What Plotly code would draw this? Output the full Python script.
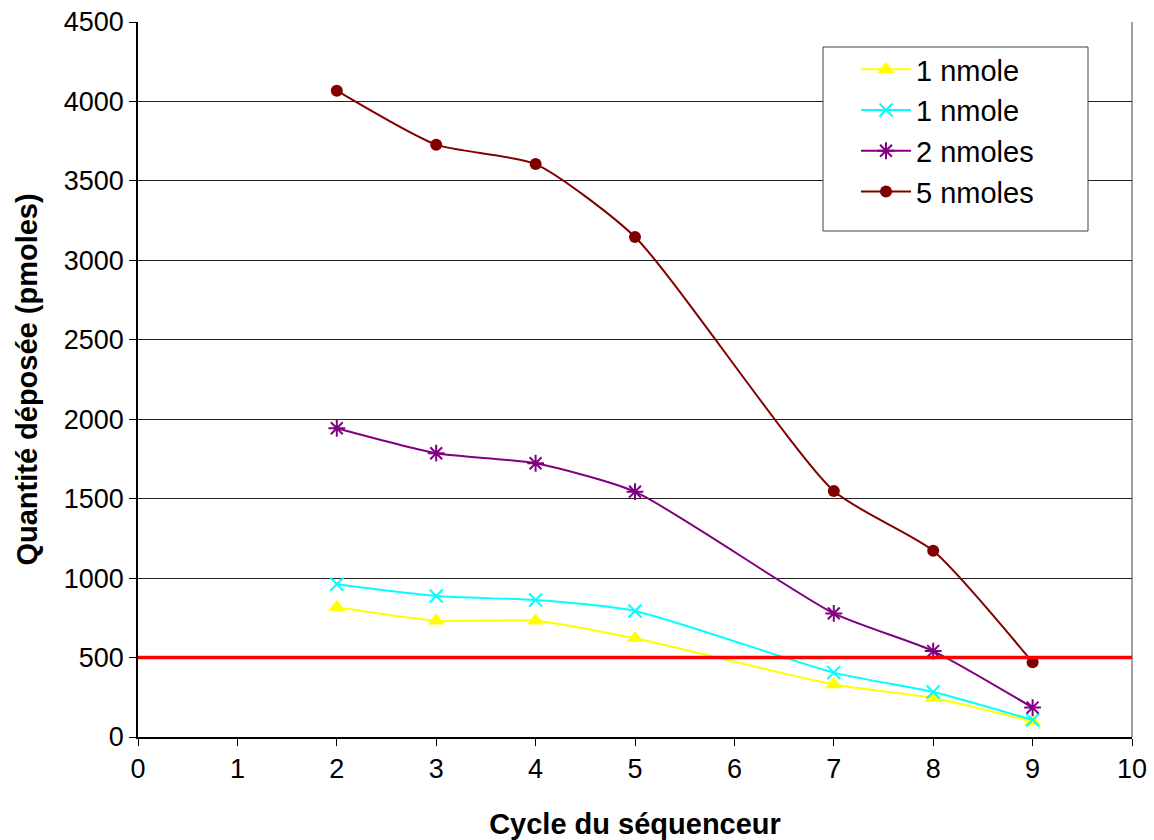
import plotly.graph_objects as go

# ---- data ----
cycles = [2, 3, 4, 5, 7, 8, 9]
series_names = ["1 nmole", "1 nmole", "2 nmoles", "5 nmoles"]
s_1nmole_a = [816, 732, 732, 621, 330, 245, 97]
s_1nmole_b = [961, 887, 862, 793, 405, 283, 107]
s_2nmoles = [1943, 1786, 1723, 1544, 778, 541, 185]
s_5nmoles = [4068, 3728, 3606, 3147, 1548, 1172, 470]
threshold = 500
x_ticks = list(range(0, 11))
y_ticks = list(range(0, 4501, 500))

FONT = "Liberation Sans, Arial, sans-serif"

styles = [
    dict(color="#FFFF00", symbol="triangle-up", size=15, mline=0),
    dict(color="#00FFFF", symbol="x-thin-open", size=13, mline=2),
    dict(color="#800080", symbol="asterisk-open", size=14, mline=2),
    dict(color="#800000", symbol="circle", size=12, mline=0),
]
values = [s_1nmole_a, s_1nmole_b, s_2nmoles, s_5nmoles]

fig = go.Figure()
for i, (name, vals, st) in enumerate(zip(series_names, values, styles)):
    fig.add_trace(go.Scatter(
        x=cycles, y=vals, name=name, mode="lines+markers",
        line=dict(color=st["color"], width=2, shape="spline", smoothing=0.6),
        marker=dict(color=st["color"], symbol=st["symbol"], size=st["size"],
                    line=dict(color=st["color"], width=st["mline"])),
        legendgroup=f"g{i}",
    ))

# threshold line
fig.add_shape(type="line", xref="paper", x0=0, x1=1, yref="y", y0=threshold, y1=threshold,
              line=dict(color="#FF0000", width=3.5), layer="above")
# right border of plot area
fig.add_shape(type="line", xref="paper", x0=1, x1=1, yref="paper", y0=0, y1=1,
              line=dict(color="#808080", width=1.5), layer="below")
# legend box
fig.add_shape(type="rect", xref="paper", yref="paper",
              x0=(823 - 138) / 994, x1=(1088 - 138) / 994,
              y0=(737 - 231) / 715, y1=(737 - 47) / 715,
              line=dict(color="#404040", width=1), fillcolor="white", layer="above")

fig.update_layout(
    width=1154, height=840,
    margin=dict(l=138, r=22, t=22, b=103, autoexpand=False),
    paper_bgcolor="white", plot_bgcolor="white",
    font=dict(family=FONT, color="black", size=27),
    showlegend=True,
    legend=dict(x=(856 - 138) / 994, y=(737 - 44) / 715, xanchor="left", yanchor="top",
                bgcolor="rgba(0,0,0,0)", borderwidth=0, itemwidth=50,
                tracegroupgap=0, font=dict(size=29, family=FONT, color="black")),
)
fig.update_xaxes(
    range=[0, 10], tickmode="array", tickvals=x_ticks, ticktext=[str(t) for t in x_ticks],
    showgrid=False, zeroline=False, showline=True, linecolor="black", linewidth=1.5,
    ticks="outside", ticklen=7, tickcolor="black", tickwidth=1, automargin=False,
    tickfont=dict(size=27, family=FONT),
    title=dict(text="<b>Cycle du séquenceur</b>", font=dict(size=29, family=FONT), standoff=35),
)
fig.update_yaxes(
    range=[0, 4500], tickmode="array", tickvals=y_ticks, ticktext=[str(t) for t in y_ticks],
    showgrid=True, gridcolor="#222222", gridwidth=1,
    zeroline=False, showline=True, linecolor="black", linewidth=1.5,
    ticks="outside", ticklen=7, tickcolor="black", tickwidth=1, automargin=False,
    tickfont=dict(size=27, family=FONT),
    title=dict(text="<b>Quantité déposée (pmoles)</b>", font=dict(size=29, family=FONT), standoff=18),
)

fig.write_html("out.html", config={"displayModeBar": False},
               post_script="document.body.style.margin='0';")
